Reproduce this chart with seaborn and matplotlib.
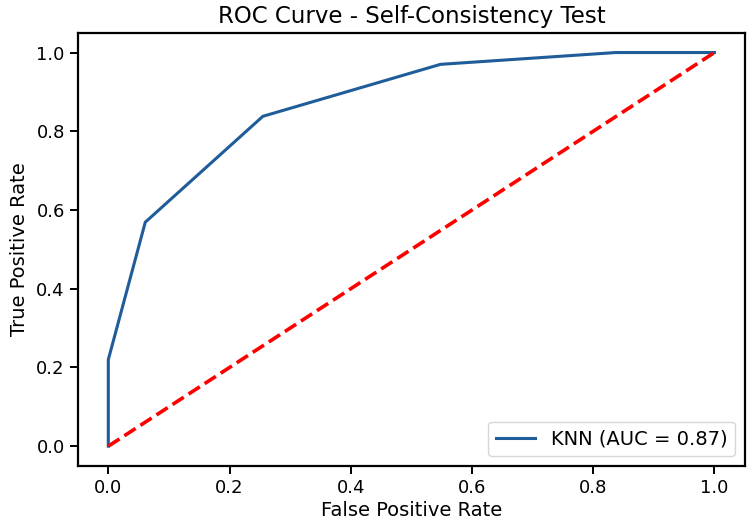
import numpy as np
import pandas as pd
import matplotlib
matplotlib.use('Agg')
import matplotlib.pyplot as plt
import seaborn as sns

# ROC points
fpr = [0.0, 0.0, 0.061, 0.255, 0.548, 0.837, 1.0]
tpr = [0.0, 0.22, 0.569, 0.838, 0.97, 1.0, 1.0]
auc_label = 'KNN (AUC = 0.87)'

roc = pd.DataFrame({'fpr': fpr, 'tpr': tpr})

fig = plt.figure(figsize=(7.5, 5.3), dpi=100)
ax = fig.add_axes([0.104, 0.121, 0.889, 0.817])

sns.lineplot(x='fpr', y='tpr', data=roc, ax=ax, color='#1f5c99', linewidth=2.2,
             label=auc_label, sort=False, estimator=None)
ax.plot([0, 1], [0, 1], color='red', linestyle='--', linewidth=2.6)

ax.set_title('ROC Curve - Self-Consistency Test', fontsize=16.5, pad=7)
ax.set_xlabel('False Positive Rate', fontsize=14, labelpad=3)
ax.set_ylabel('True Positive Rate', fontsize=14, labelpad=5)
ax.tick_params(labelsize=13, width=1.4, length=6)
for s in ax.spines.values():
    s.set_linewidth(1.6)
ax.legend(loc='lower right', fontsize=14)

fig.savefig('out.png', dpi=100)
